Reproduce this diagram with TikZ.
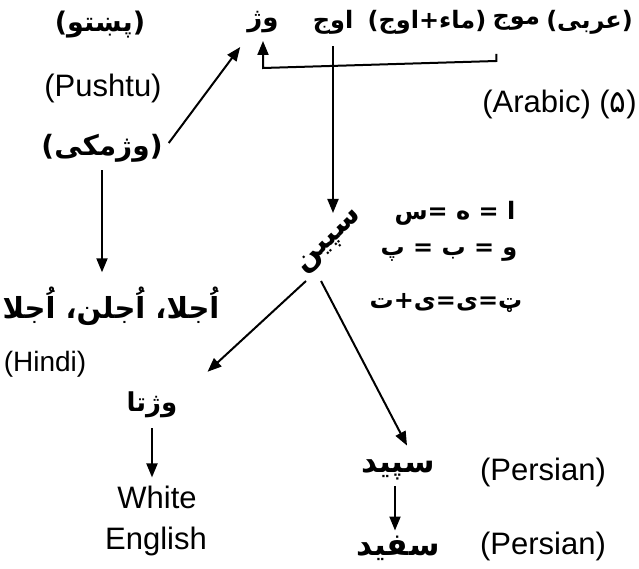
\documentclass[tikz,border=0pt]{standalone}
\usepackage{fontspec}
\setmainfont{Liberation Sans}
\newfontfamily\arabicfont[Script=Arabic]{DejaVu Sans}
\TeXXeTstate=1
\usetikzlibrary{arrows.meta}
\newcommand{\urd}[1]{{\arabicfont\beginR #1\endR}}
\newcommand{\arsize}[1]{\arabicfont\bfseries\fontsize{#1}{#1}\selectfont}
\tikzset{
  lat/.style={font=\fontsize{31}{35}\selectfont, inner sep=0pt},
  urdu/.style={font=\arsize{24}, inner sep=0pt},
  arr/.style={-{Triangle[length=14pt,width=11pt]}, line width=2pt},
  ln/.style={line width=2pt}
}
\begin{document}
\begin{tikzpicture}[x=1pt,y=-1pt]
\useasboundingbox (0,0) rectangle (639,569);
% left column
\node[urdu, font=\arsize{27}] (pashto) at (100,25) {\urd{(پښتو)}};
\node[lat] (pushtu) at (103,88) {(Pushtu)};
\node[urdu, font=\arsize{28}] (wzhmk) at (102,148) {\urd{(وژمکی)}};
\node[urdu, font=\arsize{29}] (ujla) at (111,306) {\urd{اُجلا، اُجلن، اُجلا}};
\node[lat, font=\fontsize{28}{32}\selectfont] (hindi) at (45,364) {(Hindi)};
\node[urdu, font=\arsize{26}] (wzhta) at (152,405) {\urd{وژتا}};
\node[lat] (white) at (157,497) {White};
\node[lat] (english) at (156,541) {English};
% top row
\node[urdu, font=\arsize{26}] (wzh) at (263,22) {\urd{وژ}};
\node[urdu, anchor=east] (arabi) at (633,22) {\urd{(عربی)}};
\node[urdu, anchor=east] (mwj) at ([xshift=-6]arabi.west) {\urd{موج}};
\node[urdu, anchor=east] (maa) at ([xshift=-6]mwj.west) {\urd{(ماء+اوج)}};
\node[urdu, anchor=east] (awj) at ([xshift=-14]maa.west) {\urd{اوج}};
\node[lat, anchor=east] (arabic) at (637,104) {(Arabic) ({\arabicfont ۵})};
% centre
\node[urdu, font=\arsize{30}, rotate=44] (spin) at (331,243) {\urd{سپین}};
\node[urdu, font=\arsize{24}] (eq1) at (455,213) {\urd{ا = ه =س}};
\node[urdu, font=\arsize{24}] (eq2) at (449,253) {\urd{و = ب = پ}};
\node[urdu, font=\arsize{24}] (eq3) at (446,303) {\urd{ټ=ی=ی+ت}};
% right column
\node[urdu, font=\arsize{31}] (sepid) at (398,470) {\urd{سپید}};
\node[urdu, font=\arsize{31}] (safid) at (398,548) {\urd{سفید}};
\node[lat] (pers1) at (543,472) {(Persian)};
\node[lat] (pers2) at (543,546) {(Persian)};
% connectors
\coordinate (tickx) at ([shift={(4,0)}]mwj.south west);
\coordinate (tick) at (tickx |- 0,54);
\coordinate (corner) at (263,68);
\coordinate (spintop) at (awj.south |- 0,213);
\draw[arr] ([shift={(6,-5)}]wzhmk.east) -- ([shift={(-7,14)}]wzh.south west);
\draw[arr] ([shift={(0,8)}]wzhmk.south) -- ([shift={(0,-14)}]wzhmk.south |- ujla.north);
\draw[arr] (tick) -- ++(0,7) -- (corner) -- ([shift={(0,8)}]wzh.south);
\draw[arr] ([shift={(0,12)}]awj.south) -- (spintop);
\draw[arr] ([shift={(-25,38)}]spin.center) -- ([shift={(30,-20)}]wzhta.north east);
\draw[arr] ([shift={(-10,38)}]spin.center) -- ([shift={(9,-14)}]sepid.north);
\draw[arr] ([shift={(0,10)}]wzhta.south) -- ([shift={(0,-8)}]wzhta.south |- white.north);
\draw[arr] ([shift={(-3,6)}]sepid.south) -- ([shift={(-3,-5)}]sepid.south |- safid.north);
\end{tikzpicture}
\end{document}
